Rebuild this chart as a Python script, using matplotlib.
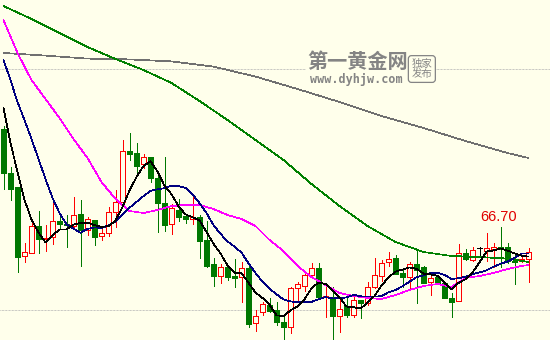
import numpy as np
import pandas as pd
import matplotlib
matplotlib.use('Agg')
import matplotlib.pyplot as plt
from matplotlib.patches import Rectangle

# daily candles (open / high / low / close)
opens = [71.60, 69.40, 68.70, 65.25, 65.40, 66.75, 66.10, 66.20, 67.00, 66.85,
         66.75, 67.35, 66.55, 67.05, 66.25, 66.40, 67.45, 67.95, 70.50, 70.40,
         69.85, 70.20, 69.15, 67.90, 66.85, 67.55, 67.25, 67.10, 67.20, 66.05,
         64.85, 64.25, 64.70, 64.25, 64.20, 64.65, 61.90, 62.45, 62.80, 62.55,
         61.95, 61.70, 63.65, 63.75, 64.30, 64.65, 63.20, 63.20, 62.25, 62.75,
         62.30, 63.05, 62.90, 63.70, 64.25, 64.95, 65.15, 64.40, 64.20, 64.85,
         64.70, 63.95, 64.20, 63.90, 63.15, 63.00, 65.40, 65.05, 65.65, 65.50,
         65.60, 65.70, 65.70, 65.00, 65.00, 65.10]
highs = [71.75, 69.70, 68.70, 65.90, 67.05, 67.50, 66.80, 67.90, 67.30, 67.30,
         68.20, 68.05, 67.20, 67.05, 66.65, 67.70, 68.55, 71.05, 71.40, 70.90,
         70.35, 70.20, 69.25, 70.20, 67.85, 68.10, 67.30, 68.20, 67.30, 67.00,
         65.15, 64.85, 64.70, 65.10, 64.95, 64.90, 62.55, 62.95, 63.15, 62.95,
         62.30, 63.70, 63.95, 64.40, 64.90, 64.90, 63.80, 63.70, 63.05, 63.15,
         63.20, 63.05, 63.95, 65.15, 65.05, 65.45, 65.30, 64.55, 64.95, 65.60,
         64.75, 64.35, 64.30, 63.90, 63.40, 65.85, 65.60, 65.70, 65.70, 66.40,
         65.90, 66.70, 65.90, 65.30, 65.25, 65.65]
lows = [68.60, 68.05, 64.45, 64.95, 65.40, 65.40, 65.50, 65.85, 66.65, 65.70,
        66.60, 64.75, 66.30, 65.80, 66.05, 66.25, 66.70, 67.95, 70.05, 69.45,
        69.65, 68.95, 66.45, 66.50, 66.35, 67.00, 66.90, 66.85, 65.15, 64.70,
        63.75, 63.90, 64.05, 63.70, 62.95, 61.70, 61.50, 62.30, 62.45, 61.80,
        61.05, 61.40, 62.95, 63.50, 64.20, 63.20, 62.20, 61.05, 61.45, 62.20,
        62.20, 62.15, 62.80, 63.65, 64.00, 64.75, 64.35, 63.70, 63.65, 62.90,
        63.90, 63.30, 63.85, 63.15, 62.20, 63.00, 65.05, 65.00, 65.30, 65.00,
        64.70, 64.70, 64.90, 63.85, 64.95, 63.95]
closes = [69.40, 68.60, 65.20, 65.45, 66.75, 66.10, 66.15, 67.00, 66.85, 66.80,
          67.30, 66.55, 67.10, 66.20, 66.40, 67.45, 67.95, 70.50, 70.35, 69.75,
          70.20, 69.15, 67.90, 66.80, 67.65, 67.20, 67.10, 67.20, 66.00, 64.75,
          64.25, 64.70, 64.20, 64.15, 64.65, 61.85, 62.25, 62.85, 62.50, 61.95,
          61.70, 63.65, 63.85, 64.30, 64.65, 63.20, 63.25, 62.25, 62.60, 62.30,
          63.05, 62.90, 63.70, 64.30, 64.90, 65.10, 64.35, 64.20, 64.85, 64.55,
          63.90, 64.15, 63.85, 63.15, 62.95, 65.40, 65.10, 65.55, 65.65, 65.65,
          65.70, 65.60, 65.00, 64.95, 65.10, 65.45]

# moving averages: the start of MA5/MA10 depends on bars left of the window
ma5_head = [72.65, 70.90, 69.45, 68.05]
ma10_head = [75.05, 74.05, 72.95, 72.05, 71.10, 70.10, 69.10, 68.15, 67.40]

ma20_idx = list(range(0, 76, 2)) + [75]
ma20_val = [77.05, 75.40, 74.05, 73.10, 72.15, 71.10, 70.15, 68.95, 68.10, 67.50,
            67.40, 67.55, 67.75, 67.80, 67.80, 67.60, 67.30, 67.10, 66.75, 66.05,
            65.50, 64.75, 64.20, 63.80, 63.40, 63.25, 63.15, 63.10, 63.30, 63.55,
            63.75, 63.85, 63.70, 64.15, 64.25, 64.40, 64.60, 64.75, 64.80]

ma60_idx = list(range(0, 76, 4)) + [75]
ma60_val = [77.75, 77.10, 76.40, 75.70, 75.10, 74.55, 73.90, 73.00, 72.05, 71.05,
            70.05, 68.85, 67.75, 66.75, 65.95, 65.45, 65.25, 65.20, 65.12, 64.95]

ma120_idx = list(range(0, 76, 6)) + [75]
ma120_val = [75.40, 75.27, 75.12, 75.08, 74.98, 74.72, 74.22, 73.60, 72.95, 72.25,
             71.65, 71.00, 70.40, 70.15]

grid_levels = [74.60, 62.55]
peak_idx = 71  # bar whose high is tagged

BG = '#FFFFEB'
UP = '#FF0000'
DOWN = '#007800'
PX = 0.72  # one pixel in points at dpi 100
LW = 0.5   # thin aliased lines come out one pixel wide

fig = plt.figure(figsize=(5.5, 3.4), dpi=100)
fig.patch.set_facecolor(BG)
ax = fig.add_axes([0, 0, 1, 1])
ax.set_facecolor(BG)
ax.set_xlim(-0.5, -0.5 + 550 / 7)
ax.set_ylim(61.05, 78.05)
ax.axis('off')

for lv in grid_levels:
    ax.axhline(lv, color='#B4B4B4', linewidth=PX, linestyle=(0, (PX, PX)), zorder=1)

# candles
w = 0.6
for i, (o, h, l, c) in enumerate(zip(opens, highs, lows, closes)):
    if c > o:
        col = UP
    elif c < o:
        col = DOWN
    else:
        col = 'black'
    ax.vlines(i, l, h, colors=col, linewidth=LW, antialiased=False, zorder=2)
    if c == o:
        ax.hlines(o, i - w / 2, i + w / 2, colors=col, linewidth=LW,
                  antialiased=False, zorder=3)
        continue
    face = BG if c > o else DOWN
    ax.add_patch(Rectangle((i - w / 2, min(o, c)), w, abs(c - o), facecolor=face,
                           edgecolor=col, linewidth=LW, antialiased=False, zorder=3))

# moving average lines
s = pd.Series(closes)
ma5 = s.rolling(5).mean().to_numpy()
ma5[:len(ma5_head)] = ma5_head
ma10 = s.rolling(10).mean().to_numpy()
ma10[:len(ma10_head)] = ma10_head
x = np.arange(len(closes))

ax.plot(ma120_idx, ma120_val, color='#707070', linewidth=LW, antialiased=False, zorder=4)
ax.plot(ma60_idx, ma60_val, color='#008000', linewidth=LW, antialiased=False, zorder=4)
ax.plot(ma20_idx, ma20_val, color='#FF00FF', linewidth=LW, antialiased=False, zorder=4)
ax.plot(x, ma10, color='#000080', linewidth=LW, antialiased=False, zorder=4)
ax.plot(x, ma5, color='black', linewidth=LW, antialiased=False, zorder=4)

# tagged high
ax.annotate(f'{highs[peak_idx]:.2f}', xy=(peak_idx, highs[peak_idx]), xytext=(-1.6, 7.4),
            textcoords='offset points', ha='center', va='center',
            color='#E00000', fontsize=10.5, family='Liberation Sans', zorder=6)

# watermark
ax.text(0.650, 0.818, '第一黄金网', transform=ax.transAxes, ha='center', va='center',
        fontsize=14.5, fontweight='heavy', color='#848484',
        family=['Noto Sans CJK SC', 'DejaVu Sans'], zorder=5,
        bbox=dict(facecolor=BG, edgecolor='none', pad=1.0))
ax.text(0.648, 0.766, 'www.dyhjw.com', transform=ax.transAxes, ha='center',
        va='center', fontsize=8.5, fontweight='bold', color='#848484',
        family='DejaVu Sans Mono', zorder=5)
ax.text(0.767, 0.797, '独家\n发布', transform=ax.transAxes, ha='center', va='center',
        fontsize=7.5, color='#848484', linespacing=1.05,
        family=['Noto Sans CJK SC', 'DejaVu Sans'], zorder=5,
        bbox=dict(boxstyle='round,pad=0.3', facecolor=BG, edgecolor='#848484',
                  linewidth=0.9))

fig.savefig('out.png', dpi=100, facecolor=BG)
plt.close(fig)
